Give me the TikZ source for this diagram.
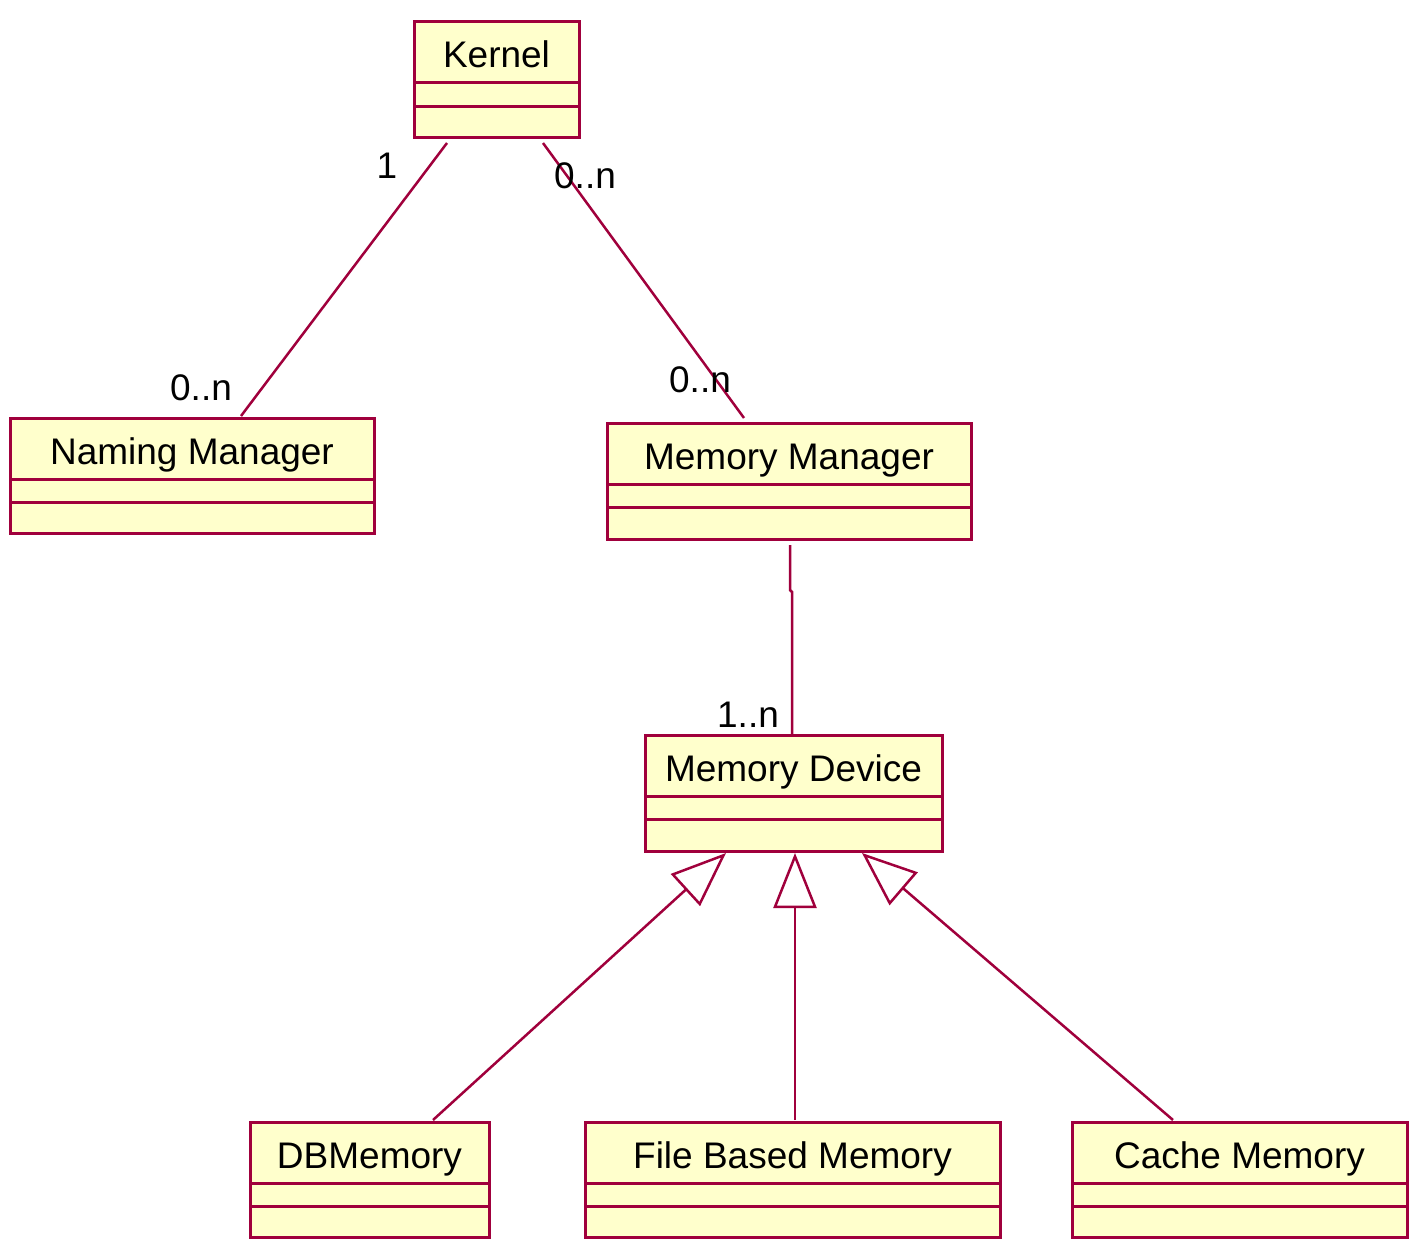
\documentclass[tikz,border=0pt]{standalone}
\usepackage{fontspec}
\setmainfont{Liberation Sans}
\usetikzlibrary{arrows.meta,calc}
\definecolor{umlred}{RGB}{160,0,60}
\definecolor{umlfill}{RGB}{255,255,204}
\newcommand\umlfont{\fontsize{37}{44}\selectfont}
\tikzset{
  classbox/.style={draw=umlred, fill=umlfill, line width=3pt, inner sep=0pt, outer sep=0pt},
  classline/.style={draw=umlred, line width=3pt},
  assoc/.style={draw=umlred, line width=2.5pt},
  gen/.style={draw=umlred, line width=2.5pt, -{Triangle[open, length=55pt, width=43pt, line width=2.5pt]}},
  mult/.style={font=\umlfont, text=black, inner sep=0pt, anchor=base},
}
\newcommand\umlclass[6]{%
  \node[classbox, minimum width={#4-#2}, minimum height={#5-#3}] (#1) at ({(#2+#4)/2},{(#3+#5)/2}) {};
  \node[font=\umlfont, inner sep=0pt, anchor=base] (#1-t) at ({(#2+#4)/2},{#3+46}) {#6};
  \draw[classline] ([yshift=-61pt]#1.north west) -- ([yshift=-61pt]#1.north east);
  \draw[classline] ([yshift=-84pt]#1.north west) -- ([yshift=-84pt]#1.north east);
}
\begin{document}
\begin{tikzpicture}[x=1pt,y=-1pt]
\useasboundingbox (0,0) rectangle (1417,1247);
\umlclass{kernel}{414}{22}{579}{137}{Kernel}
\umlclass{naming}{10}{418}{374}{533}{Naming Manager}
\umlclass{memmgr}{607}{423}{971}{539}{Memory Manager}
\umlclass{device}{645}{735}{942}{851}{Memory Device}
\umlclass{dbmem}{250}{1122}{489}{1237}{DBMemory}
\umlclass{filemem}{585}{1122}{1000}{1237}{File Based Memory}
\umlclass{cachemem}{1072}{1122}{1407}{1237}{Cache Memory}
% associations
\draw[assoc] ([xshift=33pt,yshift=-6pt]kernel.south west) -- ([xshift=231pt,yshift=2pt]naming.north west);
\draw[assoc] ([xshift=129pt,yshift=-6pt]kernel.south west) -- ([xshift=137pt,yshift=5pt]memmgr.north west);
\coordinate (jog) at ($(memmgr.south west)+(183,51)$);
\draw[assoc] ([xshift=183pt,yshift=-6pt]memmgr.south west) -- (jog) -- ++(2,2) -- ([xshift=147pt]device.north west);
% multiplicities
\node[mult] (m1) at (387,178) {1};
\node[mult] (m2) at (201,400) {0..n};
\node[mult] (m3) at (585,188) {0..n};
\node[mult] (m4) at (700,392) {0..n};
\node[mult] (m5) at (748,727) {1..n};
% generalizations
\draw[gen] ([xshift=183pt,yshift=2pt]dbmem.north west) -- ([xshift=81pt,yshift=-2pt]device.south west);
\draw[gen] ([xshift=210pt,yshift=2pt]filemem.north west) -- ([xshift=150pt,yshift=-2pt]device.south west);
\draw[gen] ([xshift=101pt,yshift=2pt]cachemem.north west) -- ([xshift=217pt,yshift=-2pt]device.south west);
\end{tikzpicture}
\end{document}
